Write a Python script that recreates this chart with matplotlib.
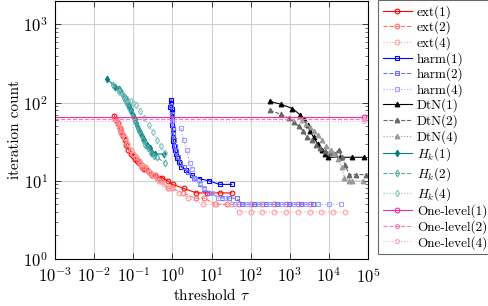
import matplotlib
matplotlib.use("Agg")
import matplotlib.pyplot as plt

plt.rcParams['font.family'] = 'cmr10'
plt.rcParams['mathtext.fontset'] = 'cm'
plt.rcParams['axes.formatter.use_mathtext'] = True
plt.rcParams['font.size'] = 10

# ext
ext1_x = [0.033, 0.037, 0.041, 0.045, 0.05, 0.055, 0.06, 0.066, 0.075, 0.089, 0.1, 0.112, 0.128,
          0.143, 0.165, 0.184, 0.21, 0.247, 0.3, 0.366, 0.45, 0.544, 0.75, 1.02, 1.94, 4.1, 7.7, 16, 33]
ext1_y = [68, 60, 55, 47, 42, 37, 33, 29, 25, 22, 21, 19, 18, 17, 15, 14, 14, 13, 12, 12, 11, 11,
          10, 9, 8, 7, 7, 7, 7]
ext2_x = [0.035, 0.04, 0.045, 0.052, 0.06, 0.07, 0.085, 0.1, 0.12, 0.14, 0.17, 0.2, 0.25, 0.3, 0.4,
          0.5, 0.79, 1.0, 1.85, 3.9, 6.5, 12.5, 25, 50, 100, 200, 400, 800, 1600, 3200]
ext2_y = [62, 54, 46, 40, 35, 30, 25, 22, 20, 18, 16, 15, 13, 12, 11, 10, 8, 8, 7, 6, 6, 5, 5, 5,
          5, 5, 5, 5, 5, 5]
ext4_x = [0.036, 0.042, 0.05, 0.06, 0.07, 0.085, 0.1, 0.12, 0.15, 0.18, 0.22, 0.27, 0.33, 0.45,
          0.6, 0.8, 1.0, 1.5, 2.5, 6.2, 12.7, 31, 50, 100, 200, 400, 800, 1600, 3200, 6400, 12800, 25600]
ext4_y = [58, 49, 41, 35, 30, 25, 22, 20, 17, 15, 14, 13, 12, 10, 9, 8, 8, 7, 6, 5, 5, 5, 4, 4, 4,
          4, 4, 4, 4, 4, 4, 4]

# harm
harm1_x = [0.93, 0.9, 0.86, 0.95, 0.97, 0.98, 0.99, 1.0, 1.01, 1.02, 1.04, 1.06, 1.1, 1.15, 1.22,
           1.3, 1.45, 1.7, 2.2, 3.1, 4.7, 8.6, 16, 33]
harm1_y = [108, 100, 88, 82, 75, 66, 58, 52, 46, 41, 36, 32, 28, 25, 22, 19.5, 17.5, 15, 13.7, 11.8,
           10.7, 10, 9, 9]
harm2_x = [0.92, 0.96, 1.0, 1.03, 1.06, 1.1, 1.15, 1.25, 1.4, 1.6, 2.0, 2.5, 3.5, 5.0, 6.4, 8.6,
           19, 28, 44, 60, 120, 240, 480, 960, 1920, 3840]
harm2_y = [90, 72, 58, 48, 40, 33, 28, 24, 20, 17, 15, 13, 11, 9, 7.8, 6.9, 6, 6, 6, 5, 5, 5, 5, 5,
           5, 5]
harm4_x = [1.67, 1.95, 2.3, 2.8, 3.2, 3.7, 5.2, 6.4, 10, 15, 23, 40, 80, 160, 320, 640, 1280, 2560,
           5120, 10240, 20480]
harm4_y = [47, 33, 25, 17, 14, 10.7, 9.3, 8, 7, 6, 6, 5, 5, 5, 5, 5, 5, 5, 5, 5, 5]

# DtN
dtn1_x = [307, 612, 1170, 1830, 2330, 2840, 3300, 4050, 5130, 6480, 7900, 9600, 19500, 38000, 78000]
dtn1_y = [104, 95, 84, 70, 61, 51, 44, 36, 30, 25, 22, 20, 20, 20, 20]
dtn2_x = [307, 590, 960, 1290, 1700, 2200, 2800, 3800, 4650, 6000, 8000, 10500, 14000, 18000,
          21000, 26000, 33000, 49000, 89000]
dtn2_y = [80, 71, 63, 56, 50, 43, 36, 33, 29, 26, 24, 23, 22, 25, 20, 16, 12, 12, 12]
dtn4_x = [2000, 2600, 3300, 4200, 5300, 6700, 8500, 11000, 13500, 17000, 21000, 25000, 32000,
          40000, 76000]
dtn4_y = [60, 54, 49, 43, 38, 33, 28, 25, 22, 19, 15, 11, 10, 10, 10]

# H_k
hk1_x = [0.021, 0.035, 0.042, 0.05, 0.058, 0.065, 0.072, 0.08, 0.09, 0.1, 0.11, 0.12, 0.135,
         0.15, 0.17, 0.19, 0.22, 0.26, 0.3, 0.36, 0.62]
hk1_y = [203, 160, 150, 135, 120, 110, 100, 90, 80, 70, 62, 55, 48, 42, 37, 33, 29, 26, 23, 22, 22]
hk2_x = [0.03, 0.04, 0.048, 0.055, 0.062, 0.07, 0.08, 0.09, 0.1, 0.11, 0.125, 0.14, 0.16, 0.18,
         0.2, 0.24, 0.28, 0.33, 0.4, 0.65]
hk2_y = [170, 150, 135, 120, 108, 97, 85, 75, 66, 58, 50, 43, 38, 33, 29, 26, 23, 21, 20, 17]
hk4_x = [0.042, 0.055, 0.069, 0.085, 0.1, 0.12, 0.15, 0.19, 0.25, 0.32, 0.4, 0.5, 0.66]
hk4_y = [137, 125, 110, 104, 100, 92, 78, 63, 51, 42, 33, 28, 23]

# One-level
one_x = [5e-4, 8e4]
one1_y = [66, 66]
one2_y = [61.5, 61.5]
one4_y = [58, 58]

series = [
    ('ext(1)', ext1_x, ext1_y, '#ff0000', '-', 'o', False),
    ('ext(2)', ext2_x, ext2_y, '#ff7070', '--', 'o', False),
    ('ext(4)', ext4_x, ext4_y, '#ffa0a0', ':', 'o', False),
    ('harm(1)', harm1_x, harm1_y, '#0000ff', '-', 's', False),
    ('harm(2)', harm2_x, harm2_y, '#7070ff', '--', 's', False),
    ('harm(4)', harm4_x, harm4_y, '#a0a0ff', ':', 's', False),
    ('DtN(1)', dtn1_x, dtn1_y, '#000000', '-', '^', True),
    ('DtN(2)', dtn2_x, dtn2_y, '#666666', '--', '^', True),
    ('DtN(4)', dtn4_x, dtn4_y, '#999999', ':', '^', True),
    ('$H_k$(1)', hk1_x, hk1_y, '#008080', '-', 'd', True),
    ('$H_k$(2)', hk2_x, hk2_y, '#55aaaa', '--', 'd', False),
    ('$H_k$(4)', hk4_x, hk4_y, '#88c4c4', ':', 'd', False),
    ('One-level(1)', one_x, one1_y, '#f0309a', '-', 'o', False),
    ('One-level(2)', one_x, one2_y, '#f47cbc', '--', 'p', False),
    ('One-level(4)', one_x, one4_y, '#f8aad4', ':', 'p', False),
]

fig = plt.figure(figsize=(4.89, 3.06), dpi=100)
ax = fig.add_axes([0.1125, 0.1536, 0.6401, 0.8434])

for label, xs, ys, c, ls, m, filled in series:
    ax.plot(xs, ys, color=c, linestyle=ls, linewidth=0.8, marker=m, markersize=3.4,
            markeredgewidth=0.8, markerfacecolor=c if filled else 'none',
            markeredgecolor=c, label=label)

ax.set_xscale('log')
ax.set_yscale('log')
ax.set_xlim(1e-3, 1e5)
ax.set_ylim(1, 2000)
ax.set_xticks([10.0 ** k for k in range(-3, 6)])
ax.set_yticks([1, 10, 100, 1000])
ax.grid(True, which='major', color='#d0d0d0', linewidth=0.8)
ax.set_axisbelow(True)
ax.tick_params(which='both', direction='in', top=True, right=True, labelsize=12)
ax.tick_params(axis='x', which='major', pad=5)
ax.tick_params(axis='y', which='major', pad=5)
ax.tick_params(which='major', length=4, width=0.5)
ax.tick_params(which='minor', length=2, width=0.4)
for s in ax.spines.values():
    s.set_linewidth(0.8)
ax.set_xlabel(r'threshold $\tau$', fontsize=11, labelpad=1)
ax.set_ylabel('iteration count', fontsize=11, labelpad=1)

leg = fig.legend(loc='upper left', bbox_to_anchor=(0.773, 0.999), fontsize=9.5,
                 frameon=True, fancybox=False, edgecolor='#444444', handlelength=2.2,
                 handletextpad=0.4, labelspacing=0.14, borderpad=0.35, numpoints=1,
                 borderaxespad=0)
leg.get_frame().set_linewidth(0.8)

fig.savefig('out.png', dpi=100)
